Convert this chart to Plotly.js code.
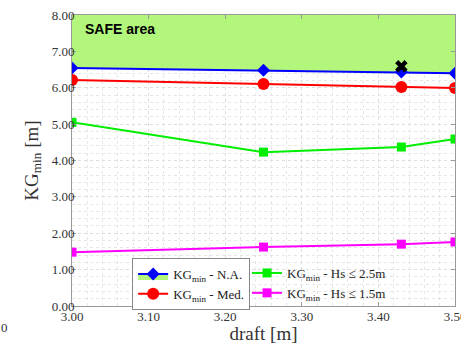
<!DOCTYPE html>
<html>
<head>
<meta charset="utf-8">
<script src="https://cdn.plot.ly/plotly-3.0.1.min.js"></script>
<style>html,body{margin:0;padding:0;background:#fff;}#chart{width:461px;height:344px;}</style>
</head>
<body>
<div id="chart"></div>
<script>
const draft = [3.00, 3.25, 3.43, 3.50];
const kgNA = [6.54, 6.48, 6.43, 6.40];
const kgMed = [6.21, 6.10, 6.02, 5.99];
const kgHs25 = [5.05, 4.23, 4.37, 4.59];
const kgHs15 = [1.48, 1.62, 1.70, 1.76];
const safeX = [3.00, 3.50];
const safeTop = [8.00, 8.00];
const crossX = [3.43];
const crossY = [6.59];
const xTicks = [3.00, 3.10, 3.20, 3.30, 3.40, 3.50];
const yTicks = [0, 1, 2, 3, 4, 5, 6, 7, 8];

const serif = "Liberation Serif, DejaVu Serif, serif";

const traces = [
  {x: safeX, y: safeTop, mode: 'lines', line: {width: 0}, showlegend: false, hoverinfo: 'skip'},
  {x: draft, y: kgNA, mode: 'lines+markers', name: 'KG<sub>min</sub> - N.A.', fill: 'tonexty',
   fillcolor: 'rgba(170,245,110,0.9)', line: {color: '#0000ff', width: 2},
   marker: {symbol: 'diamond', size: 10, color: '#0000ff'}, legend: 'legend'},
  {x: draft, y: kgMed, mode: 'lines+markers', name: 'KG<sub>min</sub> - Med.',
   line: {color: '#ff0000', width: 2}, marker: {symbol: 'circle', size: 12, color: '#ff0000'}, legend: 'legend'},
  {x: draft, y: kgHs25, mode: 'lines+markers', name: 'KG<sub>min</sub> - Hs ≤ 2.5m',
   line: {color: '#00ee00', width: 2}, marker: {symbol: 'square', size: 9, color: '#00ee00'}, legend: 'legend2'},
  {x: draft, y: kgHs15, mode: 'lines+markers', name: 'KG<sub>min</sub> - Hs ≤ 1.5m',
   line: {color: '#ff00ff', width: 2}, marker: {symbol: 'square', size: 9, color: '#ff00ff'}, legend: 'legend2'},
  {x: crossX, y: crossY, mode: 'markers', showlegend: false,
   marker: {symbol: 'x', size: 11, color: '#000000'}}
];

const axisCommon = {
  showline: true, linecolor: '#999999', linewidth: 1, mirror: 'ticks',
  ticks: 'inside', ticklen: 4, tickcolor: '#999999',
  showgrid: true, gridcolor: '#dddddd', griddash: 'dot', gridwidth: 1,
  zeroline: false, automargin: false, ticklabeloverflow: 'allow',
  tickfont: {family: serif, size: 13, color: '#333333'}
};

const legendFont = {family: serif, size: 13, color: '#222222'};

const layout = {
  width: 461, height: 344,
  margin: {l: 72, r: 6, t: 15, b: 38},
  paper_bgcolor: '#ffffff', plot_bgcolor: '#ffffff',
  showlegend: true,
  xaxis: Object.assign({}, axisCommon, {
    range: [3.0, 3.5], tickvals: xTicks, tickformat: '.2f', ticklabelstandoff: -2,
    minor: {dtick: 0.02, showgrid: true, gridcolor: '#e6e6e6', griddash: 'dot', ticks: ''},
    title: {text: 'draft [m]', font: {family: serif, size: 19, color: '#333333'}, standoff: 1}
  }),
  yaxis: Object.assign({}, axisCommon, {
    range: [0, 8], tickvals: yTicks, tickformat: '.2f', ticklabelstandoff: -6,
    minor: {dtick: 0.2, showgrid: true, gridcolor: '#e6e6e6', griddash: 'dot', ticks: ''},
    title: {text: 'KG<sub>min</sub> [m]', font: {family: serif, size: 19, color: '#333333'}, standoff: 8}
  }),
  legend: {
    orientation: 'v', x: 0.157, y: 0.165, xanchor: 'left', yanchor: 'top',
    traceorder: 'normal',
    bgcolor: '#ffffff', bordercolor: '#888888', borderwidth: 1,
    font: legendFont,
    entrywidth: 220, entrywidthmode: 'pixels', itemwidth: 30, tracegroupgap: 0
  },
  legend2: {
    orientation: 'v', x: 0.457, y: 0.165, xanchor: 'left', yanchor: 'top',
    traceorder: 'normal',
    bgcolor: 'rgba(0,0,0,0)', borderwidth: 0,
    font: legendFont, itemwidth: 30, tracegroupgap: 0
  },
  annotations: [
    {xref: 'paper', yref: 'paper', x: 0.03, y: 0.985, xanchor: 'left', yanchor: 'top',
     text: '<b>SAFE area</b>', showarrow: false,
     font: {family: 'Liberation Sans, Arial, sans-serif', size: 14, color: '#000000'}},
    {xref: 'paper', yref: 'paper', x: -0.19, y: -0.04, xanchor: 'left', yanchor: 'top',
     text: '0', showarrow: false, font: {family: serif, size: 13, color: '#333333'}}
  ]
};

Plotly.newPlot('chart', traces, layout, {displayModeBar: false, staticPlot: true});
</script>
</body>
</html>
